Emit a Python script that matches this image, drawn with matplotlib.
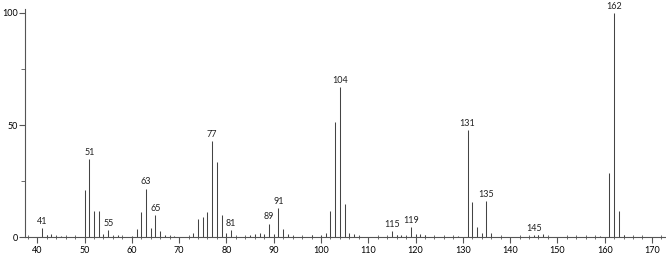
import matplotlib.pyplot as plt
from matplotlib.ticker import MultipleLocator

plt.rcParams['font.family'] = ['Lato', 'DejaVu Sans']

# m/z and relative intensity
mz = [41, 42, 43, 44, 45, 46, 50, 51, 52, 53, 54, 55, 56, 57, 58,
      60, 61, 62, 63, 64, 65, 66, 67, 68, 69, 72, 73, 74, 75, 76, 77, 78, 79, 80, 81,
      85, 86, 87, 88, 89, 90, 91, 92, 93, 94, 98, 100, 101, 102, 103, 104, 105,
      106, 107, 108, 115, 116, 117, 118, 119, 120, 121, 122, 129,
      131, 132, 133, 134, 135, 136, 145, 146, 147, 159, 161, 162, 163, 164]
intensity = [4.2, 1.3, 1.5, 0.5, 0.5, 0.3, 21.2, 34.8, 11.9, 11.6, 1.5, 3.4, 0.7, 1.0, 0.3,
             0.5, 3.8, 11.3, 21.8, 4.4, 9.8, 2.8, 1.3, 0.6, 0.6, 0.3, 1.8, 8.1, 9.1, 11.3, 42.8, 33.6, 10.2, 2.0, 3.2,
             0.9, 1.5, 2.0, 1.5, 6.2, 1.5, 13.2, 3.7, 1.6, 0.6, 0.9, 0.9, 2.2, 11.7, 51.4, 67.0, 14.9,
             2.2, 1.5, 0.7, 2.8, 1.3, 0.9, 0.6, 4.6, 1.5, 1.5, 0.9, 0.5,
             47.9, 16.0, 4.6, 2.0, 16.3, 2.0, 1.0, 1.0, 1.6, 0.6, 28.6, 100.0, 12.0, 1.3]
labeled = [41, 51, 55, 63, 65, 77, 81, 89, 91, 104, 115, 119, 131, 135, 145, 162]

fig = plt.figure(figsize=(6.66, 2.54), dpi=100)
ax = fig.add_axes([0.0375, 0.065, 0.962, 0.9015])

ax.vlines(mz, 0, intensity, color='#444444', linewidth=0.75)

for m, h in zip(mz, intensity):
    if m in labeled:
        ax.text(m, h + 1.0, str(m), ha='center', va='bottom', fontsize=6.5, color='#222222')

ax.set_xlim(37.4, 172.9)
ax.set_ylim(0, 102)

for s in ['top', 'right']:
    ax.spines[s].set_visible(False)
for s in ['left', 'bottom']:
    ax.spines[s].set_color('#555555')
    ax.spines[s].set_linewidth(0.8)

ax.xaxis.set_major_locator(MultipleLocator(10))
ax.xaxis.set_minor_locator(MultipleLocator(2))
ax.yaxis.set_major_locator(MultipleLocator(50))
ax.yaxis.set_minor_locator(MultipleLocator(25))
ax.tick_params(axis='x', which='major', direction='out', length=4, width=0.8, color='#555555',
               labelsize=6.5, pad=2)
ax.tick_params(axis='x', which='minor', direction='inout', length=3, width=0.6, color='#555555')
ax.tick_params(axis='y', which='major', direction='out', length=4, width=0.8, color='#555555',
               labelsize=6.5, pad=1)
ax.tick_params(axis='y', which='minor', direction='out', length=3, width=0.6, color='#555555')

fig.savefig('out.png', dpi=100)
